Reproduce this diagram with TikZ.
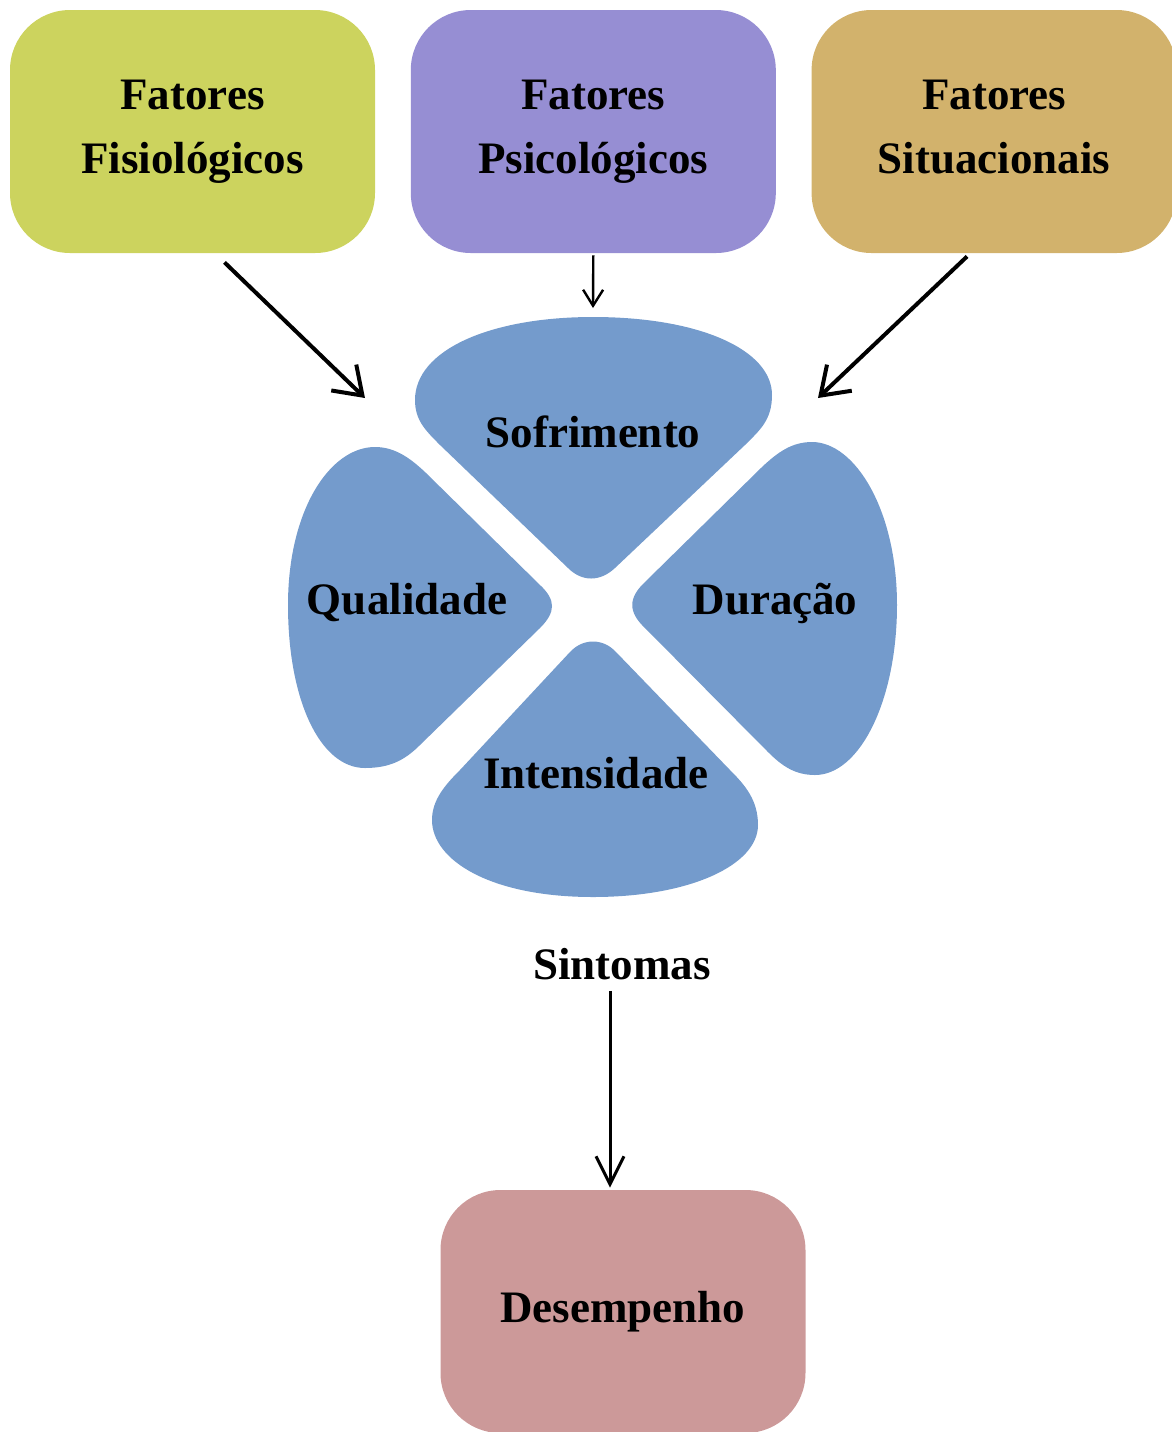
\documentclass[tikz,border=0pt]{standalone}
\usepackage{fontspec}
\setmainfont{Liberation Serif}
\usepackage{tikz}
\usetikzlibrary{positioning,arrows.meta,calc}
\definecolor{fisgreen}{RGB}{204,211,94}
\definecolor{psipurple}{RGB}{150,142,211}
\definecolor{sittan}{RGB}{210,178,108}
\definecolor{petalblue}{RGB}{116,155,204}
\definecolor{despink}{RGB}{204,153,153}

\begin{document}
\begin{tikzpicture}[
  x=0.5pt, y=-0.5pt,
  node distance=17.5pt,
  lbl/.style={font=\bfseries\fontsize{22.5}{32}\selectfont, align=center},
  box/.style={lbl, rounded corners=30pt, minimum width=182.5pt,
              minimum height=121.5pt, inner sep=0pt},
  petal/.style={fill=petalblue},
  arr/.style={-{Straight Barb[length=13pt,width=18pt]}, line width=2pt, black},
  arrsm/.style={-{Straight Barb[length=8pt,width=10pt]}, line width=1.2pt, black},
  arrmd/.style={-{Straight Barb[length=14pt,width=14pt]}, line width=1.5pt, black}
]
\useasboundingbox (0,0) rectangle (1172,1432);
\node[box, fill=fisgreen] (fis) at (192.5,131.5) {Fatores\\Fisiológicos};
\node[box, fill=psipurple, right=of fis] (psi) {Fatores\\Psicológicos};
\node[box, fill=sittan, right=of psi] (sit) {Fatores\\Situacionais\vphantom{g}};
% the four petals
\fill[petal] (593,317) .. controls (700,317) and (772,350) .. (772,395)
  .. controls (772,420) and (760,430) .. (745,445) -- (615,568)
  .. controls (600,582) and (582,582) .. (568,568) -- (440,445)
  .. controls (425,430) and (415,420) .. (415,400)
  .. controls (415,350) and (490,317) .. (593,317) -- cycle;
\fill[petal] (288,605) .. controls (288,510) and (330,447) .. (375,447)
  .. controls (395,447) and (410,458) .. (425,472) -- (540,585)
  .. controls (556,600) and (556,612) .. (540,628) -- (420,745)
  .. controls (405,760) and (390,768) .. (365,768)
  .. controls (320,768) and (288,700) .. (288,605) -- cycle;
\fill[petal] (897,605) .. controls (897,510) and (855,442) .. (812,442)
  .. controls (792,442) and (778,452) .. (762,467) -- (645,582)
  .. controls (628,598) and (628,612) .. (645,628) -- (768,752)
  .. controls (782,766) and (795,775) .. (815,775)
  .. controls (860,775) and (897,700) .. (897,605) -- cycle;
\fill[petal] (593,897) .. controls (490,897) and (432,860) .. (432,820)
  .. controls (432,800) and (445,785) .. (460,770) -- (570,652)
  .. controls (583,638) and (603,638) .. (616,652) -- (730,770)
  .. controls (745,785) and (758,800) .. (758,825)
  .. controls (758,865) and (690,897) .. (593,897) -- cycle;
\node[lbl] (sof) at (593,432) {Sofrimento};
\node[lbl] (qua) at (407,603) {Qualidade};
\node[lbl] (dur) at (775,603) {Duração};
\node[lbl] (int) at (596,773) {Intensidade};
\node[lbl] (sin) at (622,964) {Sintomas};
\node[box, fill=despink] (des) at (623,1311.5) {Desempenho};
\coordinate (qin) at (365,398);
\coordinate (sin0) at (593,308);
\coordinate (din) at (818,398);
\draw[arr] ([shift={(32,9)}]fis.south) -- (qin);
\draw[arrsm] ([shift={(0,2)}]psi.south) -- (sin0);
\draw[arr] ([shift={(-27,3)}]sit.south) -- (din);
\draw[arrmd] ([shift={(-12,4)}]sin.south) -- ([shift={(-13,-2)}]des.north);
\end{tikzpicture}
\end{document}
